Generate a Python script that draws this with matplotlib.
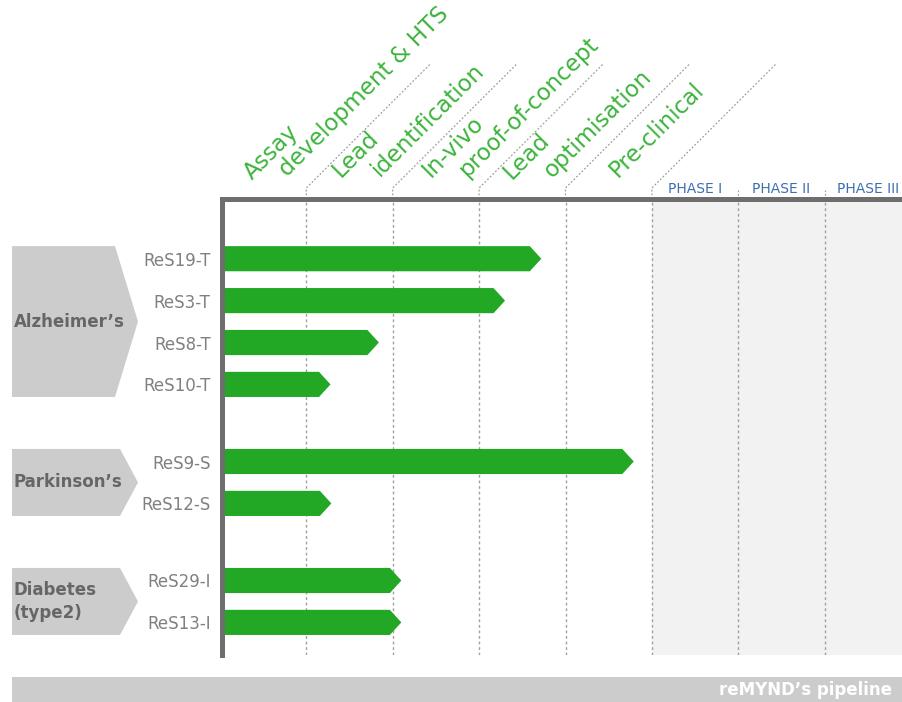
import matplotlib
matplotlib.use("Agg")
import matplotlib.pyplot as plt
from matplotlib.patches import Polygon, Rectangle

# ---------------- data ----------------
stages = [("Assay", "development & HTS"),
          ("Lead", "identification"),
          ("In-vivo", "proof-of-concept"),
          ("Lead", "optimisation"),
          ("Pre-clinical",)]
phases = ["PHASE I", "PHASE II", "PHASE III"]
groups = ["Alzheimer\u2019s", "Parkinson\u2019s", "Diabetes\n(type2)"]
group_sizes = [4, 2, 2]
compounds = ["ReS19-T", "ReS3-T", "ReS8-T", "ReS10-T",
             "ReS9-S", "ReS12-S", "ReS29-I", "ReS13-I"]
progress = [3.72, 3.30, 1.84, 1.28, 4.79, 1.29, 2.10, 2.10]
footer = "reMYND\u2019s pipeline"

# ---------------- style ----------------
W, H = 903, 702
BAR_GREEN = "#22a824"
TXT_GREEN = "#3cb43c"
SPINE = "#6e6e6e"
GRID = "#a0a0a0"
GREY_BOX = "#cccccc"

fig = plt.figure(figsize=(W / 100, H / 100), dpi=100)
fig.patch.set_facecolor("white")

# overlay axes in pixel coordinates (behind main axes)
ov = fig.add_axes([0, 0, 1, 1], zorder=-1)
ov.set_xlim(0, W)
ov.set_ylim(H, 0)
ov.axis("off")

ax = fig.add_axes([222.5 / W, (H - 655) / H, 1 - 222.5 / W, (655 - 199) / H])
x0 = 0.03
xmax = x0 + (W - 222.5) / 86.4
ytop = -1.425
ybot = ytop + (655 - 199) / 41.9
ax.set_xlim(x0, xmax)
ax.set_ylim(ybot, ytop)

# row positions
gap = 0.84
pos = []
y = 0.0
for n in group_sizes:
    for _ in range(n):
        pos.append(y)
        y += 1
    y += gap

# shaded clinical area
ax.axvspan(5, xmax, color="#f2f2f2", zorder=0, lw=0)

# grid lines
for k in range(1, 8):
    ax.axvline(k, color=GRID, lw=1.0, ls=(0, (2, 2)), zorder=1.5)

# bars with arrow tips
h = 0.6
tip = 0.133
for yy, v in zip(pos, progress):
    poly = Polygon([(x0 - 0.05, yy - h / 2), (v - tip, yy - h / 2), (v, yy),
                    (v - tip, yy + h / 2), (x0 - 0.05, yy + h / 2)],
                   closed=True, facecolor=BAR_GREEN, edgecolor="none", zorder=2)
    ax.add_patch(poly)

# spines
for s in ["right", "bottom"]:
    ax.spines[s].set_visible(False)
for s in ["left", "top"]:
    ax.spines[s].set_linewidth(3.6)
    ax.spines[s].set_color(SPINE)
    ax.spines[s].set_capstyle("projecting")
    ax.spines[s].set_zorder(3)

ax.set_xticks([])
ax.set_yticks(pos, compounds)
ax.tick_params(axis="y", length=0, pad=8.5, labelsize=12, labelcolor="#808080")


def to_px(xd, yd):
    d = ax.transData.transform((xd, yd))
    return ov.transData.inverted().transform(d)


# diagonal header lines and ticks above the axis
for k in range(1, 8):
    gx, gy = to_px(k, ytop)
    if k <= 5:
        ov.plot([gx, gx, gx + 124], [gy, gy - 11, gy - 11 - 124],
                color=GRID, lw=0.9, ls=(0, (1.5, 1.5)), clip_on=False)
    else:
        ov.plot([gx, gx], [gy, gy - 9], color=GRID, lw=0.9,
                ls=(0, (1.5, 1.5)), clip_on=False)

# stage labels (rotated)
offsets = [[(32, 19), (68, 22)],
           [(34, 21), (74, 22)],
           [(38, 21), (75, 22)],
           [(33, 19), (73, 21)],
           [(52, 21)]]
for k, (lines, offs) in enumerate(zip(stages, offsets)):
    gx, gy = to_px(k, ytop)
    for txt, (dx, dy) in zip(lines, offs):
        ov.text(gx + dx, gy - dy, txt, rotation=45, rotation_mode="anchor",
                ha="left", va="baseline", fontsize=16.5, color=TXT_GREEN)

# phase labels
for i, p in enumerate(phases):
    gx, gy = to_px(5.5 + i, ytop)
    ov.text(gx, gy - 6, p, ha="center", va="baseline", fontsize=10,
            color="#3d6fb0")

# group labels (grey arrow boxes)
tip_lens = [23, 18, 18]
start = 0
for g, n, tl in zip(groups, group_sizes, tip_lens):
    _, ya = to_px(0, pos[start] - h / 2)
    _, yb = to_px(0, pos[start + n - 1] + h / 2)
    ym = (ya + yb) / 2
    ov.add_patch(Polygon([(12, ya), (138 - tl, ya), (138, ym), (138 - tl, yb), (12, yb)],
                         closed=True, facecolor=GREY_BOX, edgecolor="none"))
    ov.text(14, ym, g, ha="left", va="center", fontsize=12, fontweight="bold",
            color="#666666", linespacing=1.3)
    start += n

# footer band
ov.add_patch(Rectangle((12, 677), W - 12, 25, facecolor=GREY_BOX, edgecolor="none"))
ov.text(892, 690, footer, ha="right", va="center", fontsize=12,
        fontweight="bold", color="white")

fig.savefig("out.png", dpi=100)
